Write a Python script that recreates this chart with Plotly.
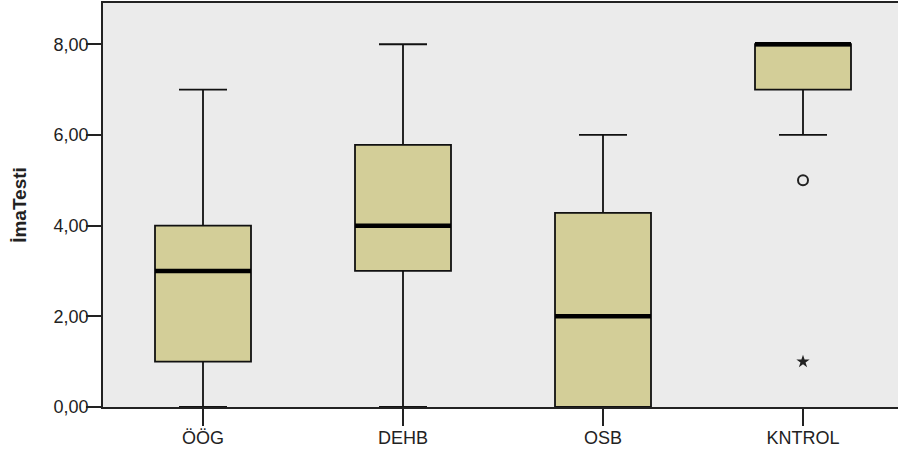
import plotly.graph_objects as go

categories = ["ÖÖG", "DEHB", "OSB", "KNTROL"]
q1 = [1.0, 3.0, 0.0, 7.0]
median = [3.0, 4.0, 2.0, 8.0]
q3 = [4.0, 5.78, 4.28, 8.0]
lower_whisker = [0.0, 0.0, 0.0, 6.0]
upper_whisker = [7.0, 8.0, 6.0, 8.0]
outlier_x = [3]
outlier_y = [5.0]
extreme_x = [3]
extreme_y = [1.0]
y_ticks = [0, 2, 4, 6, 8]
y_ticktext = ["0,00", "2,00", "4,00", "6,00", "8,00"]

box_w = 0.48
fig = go.Figure()
positions = list(range(len(categories)))
for i in positions:
    fig.add_trace(go.Box(
        x=[i], q1=[q1[i]], median=[median[i]], q3=[q3[i]],
        lowerfence=[lower_whisker[i]], upperfence=[upper_whisker[i]],
        width=box_w, whiskerwidth=0.5,
        fillcolor="#D3CE98", line=dict(color="#111111", width=1.8),
        boxpoints=False, showlegend=False, hoverinfo="skip"))
    fig.add_trace(go.Scatter(
        x=[i - box_w / 2, i + box_w / 2], y=[median[i], median[i]],
        mode="lines", line=dict(color="#000000", width=4.5),
        showlegend=False, hoverinfo="skip"))

fig.add_trace(go.Scatter(x=outlier_x, y=outlier_y, mode="markers",
                         marker=dict(symbol="circle-open", size=10, color="#222222",
                                     line=dict(width=2, color="#222222")),
                         showlegend=False))
fig.add_trace(go.Scatter(x=extreme_x, y=extreme_y, mode="markers",
                         marker=dict(symbol="star", size=10, color="#222222"),
                         showlegend=False))

fig.update_layout(
    width=898, height=459,
    margin=dict(l=103, r=0, t=3, b=52),
    paper_bgcolor="white", plot_bgcolor="#EBEBEB",
    font=dict(family="Liberation Sans, Arial, sans-serif", size=18, color="#222222"),
    xaxis=dict(range=[-0.5, 3.475], tickvals=positions, ticktext=categories,
               showgrid=False, zeroline=False, showline=True, linecolor="#222222",
               linewidth=1.5, mirror=True, ticks="outside", ticklen=17,
               tickcolor="#222222", tickwidth=1.5, tickfont=dict(size=18),
               ticklabelstandoff=-3),
    yaxis=dict(range=[0, 8.91], tickvals=y_ticks, ticktext=y_ticktext,
               showgrid=False, zeroline=False, showline=True, linecolor="#222222",
               linewidth=1.5, ticks="outside", ticklen=15, tickcolor="#222222",
               tickwidth=1.5, tickfont=dict(size=18), ticklabelstandoff=-6,
               title=dict(text="<b>İmaTesti</b>", font=dict(size=19), standoff=22)),
)

fig.write_html("out.html", config={"displayModeBar": False},
               post_script="document.body.style.margin='0';")
